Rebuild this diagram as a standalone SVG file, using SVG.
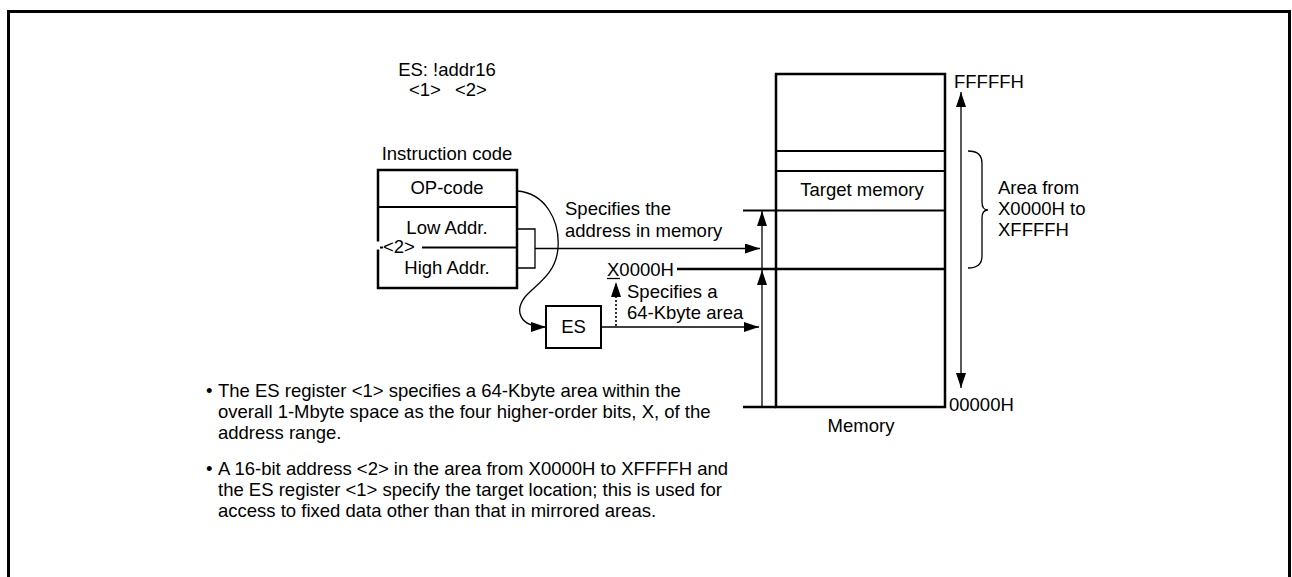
<svg xmlns="http://www.w3.org/2000/svg" width="1292" height="577" viewBox="0 0 1292 577">
<defs>
<style>
text{font-family:"Liberation Sans",Arial,sans-serif;font-size:18.5px;fill:#000}
.mid{text-anchor:middle}
.thin{stroke:#000;stroke-width:1.3;fill:none}
.thick{stroke:#000;stroke-width:2.5;fill:none}
.med{stroke:#000;stroke-width:2;fill:none}
</style>
<marker id="ah" markerUnits="userSpaceOnUse" markerWidth="16" markerHeight="12" refX="15" refY="5" orient="auto">
<path d="M0,0 L15,5 L0,10 Z" fill="#000"/>
</marker>
</defs>
<rect width="1292" height="577" fill="#fff"/>
<path d="M8.5,577 V11.5 H1289.5 V577" fill="none" stroke="#000" stroke-width="3"/>

<g id="title">
<text class="mid" x="447" y="76">ES: !addr16</text>
<text x="409" y="96">&lt;1&gt;</text>
<text x="455" y="96">&lt;2&gt;</text>
</g>

<g id="instruction">
<text class="mid" x="447" y="160">Instruction code</text>
<rect x="378" y="170" width="139" height="118" class="thick"/>
<line x1="378" y1="207" x2="517" y2="207" class="med"/>
<line x1="378" y1="247.5" x2="517" y2="247.5" class="med"/>
<text class="mid" x="447" y="194">OP-code</text>
<text class="mid" x="447" y="234">Low Addr.</text>
<text class="mid" x="447" y="274">High Addr.</text>
<rect x="376" y="241.5" width="46" height="8" fill="#fff"/>
<line x1="380" y1="247.5" x2="383" y2="247.5" stroke="#000" stroke-width="2"/>
<text x="383" y="253">&lt;2&gt;</text>
</g>

<g id="es">
<rect x="546" y="306" width="55" height="42" class="med"/>
<text class="mid" x="573.5" y="333">ES</text>
</g>

<g id="memory">
<rect x="776" y="74" width="169" height="333" class="thick"/>
<line x1="776" y1="151" x2="945" y2="151" class="med"/>
<line x1="776" y1="171" x2="945" y2="171" class="med"/>
<line x1="743" y1="210.5" x2="945" y2="210.5" class="med"/>
<line x1="677" y1="269" x2="945" y2="269" class="thick"/>
<line x1="743" y1="407" x2="776" y2="407" class="thick"/>
<text class="mid" x="862" y="196">Target memory</text>
<text class="mid" x="861" y="432">Memory</text>
<text x="954" y="88">FFFFFH</text>
<text x="949" y="411">00000H</text>
</g>

<g id="labels">
<text x="565" y="215">Specifies the</text>
<text x="565" y="237">address in memory</text>
<text x="607" y="276">X0000H</text>
<line x1="607" y1="278.5" x2="620" y2="278.5" stroke="#000" stroke-width="1.3"/>
<text x="627" y="298">Specifies a</text>
<text x="627" y="319">64-Kbyte area</text>
<text x="998" y="194">Area from</text>
<text x="998" y="215">X0000H to</text>
<text x="998" y="236">XFFFFH</text>
</g>

<g id="connectors">
<path d="M517,229 H535 V268 H517" class="thin"/>
<line x1="535" y1="248.5" x2="760" y2="248.5" class="thin" marker-end="url(#ah)"/>
<line x1="601" y1="327" x2="759" y2="327" class="thin" marker-end="url(#ah)"/>
<line x1="616" y1="326" x2="616" y2="282" stroke="#000" stroke-width="1.6" stroke-dasharray="2,2" marker-end="url(#ah)"/>
<path d="M517,191 C545,193 560,220 558,248 C556,275 535,285 525,297 C515,310 518,327 546,327" class="thin" marker-end="url(#ah)"/>
<line x1="762" y1="269" x2="762" y2="211" class="thin" marker-end="url(#ah)"/>
<line x1="762" y1="407" x2="762" y2="270" class="thin" marker-end="url(#ah)"/>
<line x1="961" y1="240" x2="961" y2="92" class="thin" marker-end="url(#ah)"/>
<line x1="961" y1="240" x2="961" y2="388" class="thin" marker-end="url(#ah)"/>
<path d="M968,151 C978,151 982,155 982,163 V202 C982,207 984,210 988,210 C984,210 982,213 982,218 V256 C982,264 978,268 968,268" class="thin"/>
</g>

<g id="notes">
<text x="206" y="397">•</text>
<text x="218" y="397">The ES register &lt;1&gt; specifies a 64-Kbyte area within the</text>
<text x="218" y="418">overall 1-Mbyte space as the four higher-order bits, X, of the</text>
<text x="218" y="439">address range.</text>
<text x="206" y="475">•</text>
<text x="218" y="475">A 16-bit address &lt;2&gt; in the area from X0000H to XFFFFH and</text>
<text x="218" y="496">the ES register &lt;1&gt; specify the target location; this is used for</text>
<text x="218" y="517">access to fixed data other than that in mirrored areas.</text>
</g>
</svg>
